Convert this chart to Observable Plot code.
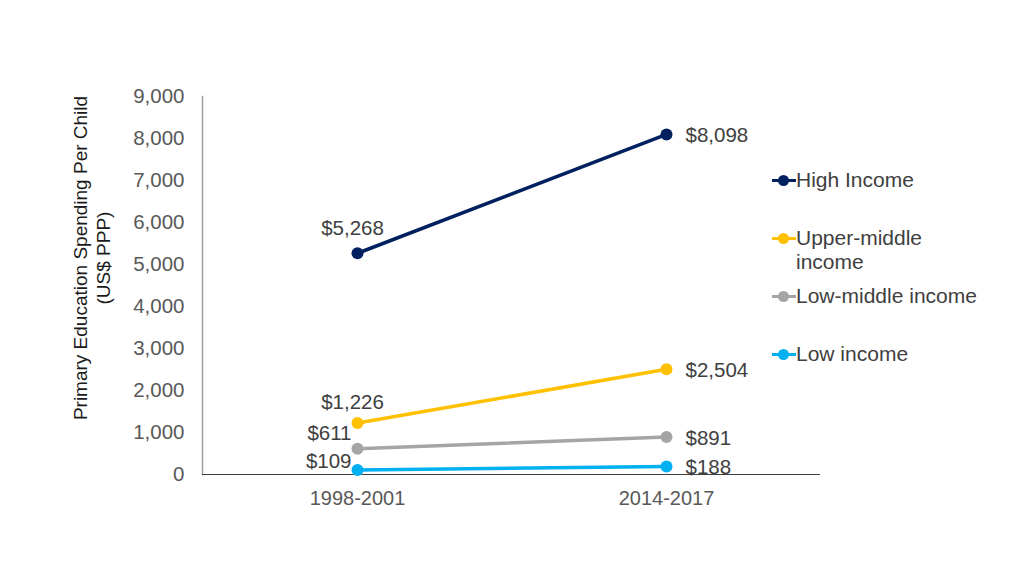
<!DOCTYPE html>
<html><head><meta charset="utf-8">
<script src="https://cdn.jsdelivr.net/npm/d3@7"></script>
<script src="https://cdn.jsdelivr.net/npm/@observablehq/plot@0.6"></script>
<style>
body{margin:0;background:#fff;font-family:"Liberation Sans",Arial,sans-serif;}
#wrap{position:relative;width:1024px;height:576px;}
#legend{position:absolute;left:772px;top:0;font-size:21px;color:#404040;}
.item{position:absolute;left:0;width:240px;display:flex;align-items:flex-start;}
.mk{position:relative;width:24px;height:22px;flex:none;}
.mk .ln{position:absolute;left:0;top:10px;width:24px;height:3px;}
.mk .dt{position:absolute;left:6px;top:6px;width:11px;height:11px;border-radius:50%;}
.lab{line-height:24px;margin-top:-1px;}
#ytitle{position:absolute;left:92px;top:258px;transform:translate(-50%,-50%) rotate(-90deg);text-align:center;font-size:19px;color:#1a1a1a;line-height:23px;white-space:nowrap;}
</style></head>
<body><div id="wrap"><div id="legend"></div><div id="ytitle">Primary Education Spending Per Child<br>(US$ PPP)</div></div>
<script>
const periods = ["1998-2001", "2014-2017"];
const seriesNames = ["High Income", "Upper-middle income", "Low-middle income", "Low income"];
const legendLabels = ["High Income", "Upper-middle<br>income", "Low-middle income", "Low income"];
const colors = ["#002060", "#FFC000", "#A5A5A5", "#00B0F0"];
const highIncome = [5268, 8098];
const upperMiddle = [1226, 2504];
const lowMiddle = [611, 891];
const lowIncome = [109, 188];
const yTicks = [0,1000,2000,3000,4000,5000,6000,7000,8000,9000];

const allVals = [highIncome, upperMiddle, lowMiddle, lowIncome];
const data = [];
seriesNames.forEach((s, i) => periods.forEach((p, j) => data.push({series: s, period: p, value: allVals[i][j]})));
const fmt = d3.format("$,");
const left = data.filter(d => d.period === periods[0]);
const right = data.filter(d => d.period === periods[1]);
const lbl = {x: "period", y: "value", text: d => fmt(d.value), fontSize: 20.5, fill: "#404040"};

const chart = Plot.plot({
  width: 1024, height: 576,
  marginLeft: 202, marginRight: 204, marginTop: 96, marginBottom: 102,
  style: {fontFamily: '"Liberation Sans", Arial, sans-serif', background: "transparent"},
  x: {domain: periods, type: "point", padding: 0.5},
  y: {domain: [0, 9000]},
  color: {domain: seriesNames, range: colors},
  marks: [
    Plot.axisX({tickSize: 0, tickPadding: 16, fontSize: 20, fill: "#595959", label: null}),
    Plot.axisY({ticks: yTicks, tickFormat: d3.format(","), tickSize: 0, tickPadding: 18, fontSize: 20.5, fill: "#595959", label: null}),
    Plot.frame({anchor: "left", stroke: "#a0a0a0", strokeWidth: 1.5}),
    Plot.ruleY([0], {stroke: "#404040", strokeWidth: 1}),
    Plot.line(data, {x: "period", y: "value", z: "series", stroke: "series", strokeWidth: 3.5}),
    Plot.dot(data, {x: "period", y: "value", fill: "series", r: 6}),
    Plot.text(right, {...lbl, textAnchor: "start", dx: 19, dy: 1}),
    Plot.text(left.filter(d => d.series === seriesNames[0]), {...lbl, textAnchor: "middle", dx: -5, dy: -25}),
    Plot.text(left.filter(d => d.series === seriesNames[1]), {...lbl, textAnchor: "middle", dx: -5, dy: -21}),
    Plot.text(left.filter(d => d.series === seriesNames[2]), {...lbl, textAnchor: "end", dx: -6, dy: -15}),
    Plot.text(left.filter(d => d.series === seriesNames[3]), {...lbl, textAnchor: "end", dx: -6, dy: -8})
  ]
});
chart.style.position = "absolute";
chart.style.left = "0"; chart.style.top = "0";
document.getElementById("wrap").prepend(chart);

const legendTops = [169, 227, 285, 343];
const lg = document.getElementById("legend");
seriesNames.forEach((s, i) => {
  const it = document.createElement("div");
  it.className = "item"; it.style.top = legendTops[i] + "px";
  it.innerHTML = `<div class="mk"><div class="ln" style="background:${colors[i]}"></div><div class="dt" style="background:${colors[i]}"></div></div><div class="lab">${legendLabels[i]}</div>`;
  lg.appendChild(it);
});
</script></body></html>
